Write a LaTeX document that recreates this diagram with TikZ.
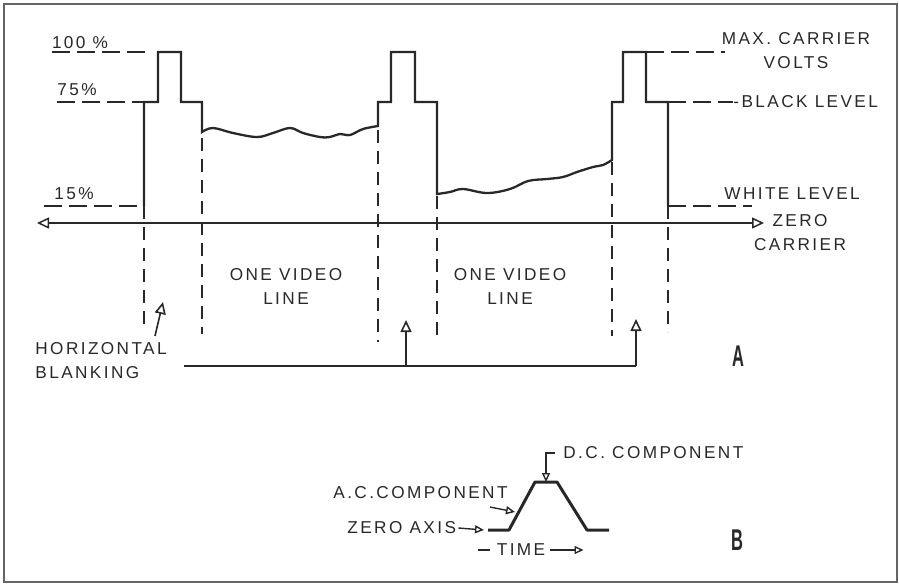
\documentclass[tikz,border=0pt]{standalone}
\usepackage{fontspec}
\setmainfont{Liberation Sans}
\newfontfamily\lettering[LetterSpace=14]{Liberation Sans}
\usetikzlibrary{arrows.meta}
\definecolor{ink}{RGB}{40,40,40}
\definecolor{rim}{RGB}{100,100,100}
\tikzset{
  >={Triangle[open,length=6pt,width=5.5pt]},
  signal/.style={draw=ink,line width=1.15pt,line join=miter},
  level/.style={draw=ink,line width=0.55pt,dash pattern=on 9pt off 3.5pt},
  divider/.style={draw=ink,line width=0.6pt,dash pattern=on 6.5pt off 4pt},
  lead/.style={->,draw=ink,line width=0.8pt},
  small lead/.style={-{Triangle[open,length=4.5pt,width=4pt]},draw=ink,line width=0.7pt},
  tag/.style={font=\lettering\fontsize{8.6}{12}\selectfont,text=ink,inner sep=0pt,align=#1},
  tag/.default=center,
  part/.style={font=\bfseries\fontsize{15}{15}\selectfont,text=ink,inner sep=0pt},
}

\begin{document}
\begin{tikzpicture}[x=0.5pt,y=-0.5pt]
        \useasboundingbox (0,0) rectangle (899,586);
        \draw[rim,line width=0.6pt] (4,4) rectangle (897,582);
        % video signal, three blanking pulses
        \draw[signal] (144,206) coordinate (footA) -- (144,102) coordinate (shA) -- (158,102) -- (158,52) coordinate (peakA)
          -- (181,52) -- (181,102) -- (202,102) -- (202,132) coordinate (waveA)
          -- plot[smooth,tension=0.6] coordinates {(202,132) (213,128) (233,133) (257,137) (273,133) (290,128) (303,133)
            (320,137) (330,137) (340,134) (350,135) (363,129) (378,126)} coordinate (riseB)
          -- (378,102) -- (391,102) -- (391,52) -- (415,52) -- (415,102) -- (437,102) -- (437,194) coordinate (dropB)
          -- plot[smooth,tension=0.6] coordinates {(437,194) (450,192) (463,189) (487,193) (510,189) (528,181) (547,179)
            (563,177) (577,172) (593,167) (603,165) (612,160)} coordinate (riseC)
          -- (612,102) -- (623,102) -- (623,52) -- (646,52) coordinate (peakC) -- (646,102) -- (668,102) coordinate (shC)
          -- (668,206) coordinate (footC);
        \node[tag] (p100) at (80,43) {100 \%};
        \node[tag] (p75) at (77,90) {75\%};
        \node[tag] (p15) at (74,194) {15\%};
        \node[tag] (max) at (796,51) {MAX. CARRIER\\VOLTS};
        \node[tag,anchor=west] (black) at (733,102) {-BLACK LEVEL};
        \node[tag,anchor=west] (white) at (724,194) {WHITE LEVEL};
        \node[tag] (zero) at (800,233) {ZERO\\CARRIER};
        \draw[level] (p100.west |- peakA) -- ([xshift=-5.5pt]peakA);
        \draw[level] (p75.west |- shA) -- (shA);
        \draw[level] ([xshift=-5pt]p15.west |- footA) -- (footA);
        \draw[level] (peakC) -- ([xshift=2pt]max.west |- peakC);
        \draw[level] (shC) -- (black.west);
        \draw[level] (footC) -- ([xshift=14pt]white.west |- footC);
        \draw[<->,draw=ink,line width=0.75pt] (37,223) coordinate (axL) -- (764,223) coordinate (axR);
        % line boundaries
        \draw[divider] (footA) -- ++(0,124);
        \draw[divider] ([yshift=-3pt]waveA) -- ++(0,196);
        \draw[divider] ([yshift=-2pt]riseB) -- ++(0,212);
        \draw[divider] ([yshift=-1pt]dropB) -- ++(0,142);
        \draw[divider] ([yshift=-1pt]riseC) -- ++(0,174);
        \draw[divider] (footC) -- ++(0,126);
        \node[tag] (lineA) at (286,286) {ONE VIDEO\\LINE};
        \node[tag] (lineB) at (510,286) {ONE VIDEO\\LINE};
        \node[tag=left,anchor=west] (hb) at (35,361) {HORIZONTAL\\BLANKING};
        \coordinate (hbTip) at (163,302);
        \draw[lead] (155,336) -- (hbTip);
        \draw[draw=ink,line width=0.8pt] (184,366) coordinate (busL) -- (406,366) coordinate (busM) -- (636,366) coordinate (busR);
        \draw[lead] (busM) -- ++(0,-46);
        \draw[lead] (busR) -- ++(0,-47);
        \node[part] (partA) at (738,356) {\scalebox{0.55}[1]{A}};
        % dc and ac parts
        \draw[draw=ink,line width=1.5pt,line join=round] (488,530) coordinate (zaxis) -- (509,530) -- (535,482) coordinate (topL)
          -- (557,482) -- (587,530) -- (609,530);
        \node[tag,anchor=west] (dc) at (563,453) {D.C. COMPONENT};
        \node[tag,anchor=west] (ac) at (333,493) {A.C.COMPONENT};
        \node[tag,anchor=west] (za) at (347,528) {ZERO AXIS};
        \node[tag] (time) at (521,550) {TIME};
        \draw[small lead] ([xshift=-4pt]dc.west) -| ([xshift=5.5pt]topL);
        \draw[small lead] (490,507) -- (515,512);
        \draw[small lead] ([xshift=1pt]za.east) -- ([xshift=-2pt]zaxis);
        \draw[draw=ink,line width=0.8pt] ([xshift=-3pt]time.west) -- ++(-6pt,0);
        \draw[small lead] ([xshift=2pt]time.east) -- ++(17pt,0);
        \node[part] (partB) at (737,540) {\scalebox{0.55}[1]{B}};
\end{tikzpicture}
\end{document}
